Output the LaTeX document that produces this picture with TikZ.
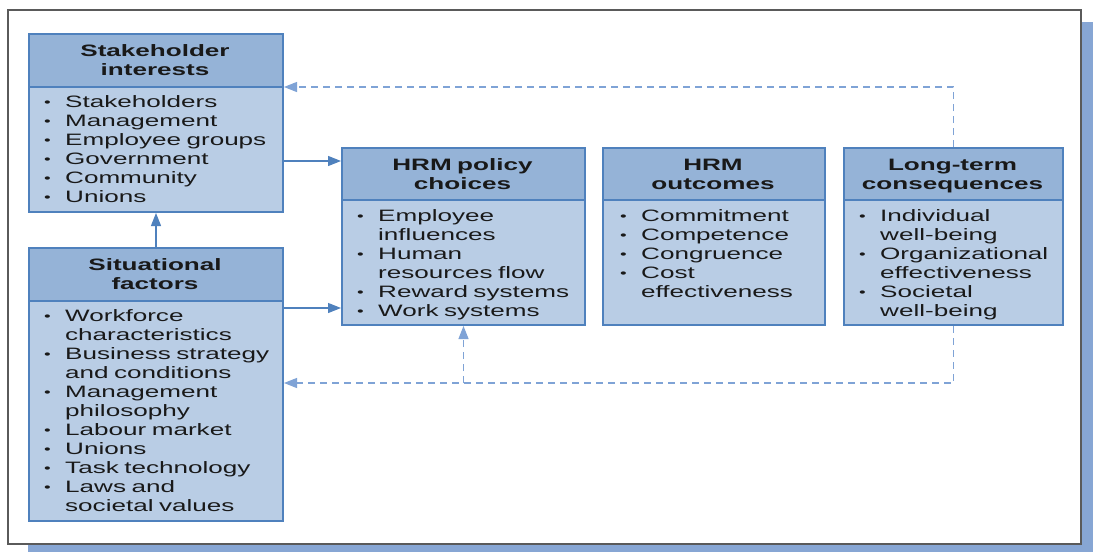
\documentclass[tikz,border=0pt]{standalone}
\usepackage{fontspec}
\setmainfont{Liberation Sans}[FakeStretch=1.58]
\usetikzlibrary{arrows.meta}
\definecolor{hdr}{HTML}{95B3D7}
\definecolor{bdy}{HTML}{B9CDE5}
\definecolor{brd}{HTML}{4F81BD}
\definecolor{shd}{HTML}{87A6D4}
\definecolor{dsh}{HTML}{7FA3D6}
\definecolor{frm}{HTML}{5A5A5A}
\newcommand{\bl}[1]{\makebox[21pt][l]{\raisebox{1pt}{\fontsize{12}{12}\selectfont\textbullet}}#1}
\newcommand{\cl}[1]{\hspace*{21pt}#1}
\tikzset{
  boxbody/.style={draw=brd, line width=2pt, fill=bdy, inner sep=0pt, anchor=north west},
  boxhead/.style={draw=brd, line width=2pt, fill=hdr, inner sep=0pt, anchor=north west},
  htext/.style={font=\fontsize{16.5}{19}\selectfont\bfseries, align=center, anchor=base, inner sep=0pt, text=black!90},
  btext/.style={font=\fontsize{16.5}{19}\selectfont, align=left, anchor=base west, inner sep=0pt, text width=240pt, text=black!90},
  solidarrow/.style={draw=brd, line width=1.1pt, -{Triangle[length=13pt,width=10pt]}},
  dasharrow/.style={draw=dsh, line width=1.1pt, dash pattern=on 7pt off 5pt, -{Triangle[length=13pt,width=10pt]}},
}
\begin{document}
\begin{tikzpicture}[x=1pt,y=-1pt]
\useasboundingbox (0,0) rectangle (1093,552);
% frame with shadow
\fill[shd] (28,22) rectangle (1093,552);
\draw[frm, fill=white, line width=1.5pt] (8,10) rectangle (1081,544);

% Stakeholder interests
\node[boxbody, minimum width=254pt, minimum height=178pt] (sh) at (28,33) {};
\node[boxhead, minimum width=254pt, minimum height=53pt] (shh) at (28,33) {};
\node[htext, text width=254pt] (shht) at (155,56) {Stakeholder\\interests};
\node[btext] (shb) at (44,107) {\bl{Stakeholders}\\\bl{Management}\\\bl{Employee groups}\\\bl{Government}\\\bl{Community}\\\bl{Unions}};

% Situational factors
\node[boxbody, minimum width=254pt, minimum height=273pt] (sf) at (28,247) {};
\node[boxhead, minimum width=254pt, minimum height=53pt] (sfh) at (28,247) {};
\node[htext, text width=254pt] (sfht) at (155,270) {Situational\\factors};
\node[btext] (sfb) at (44,321) {\bl{Workforce}\\\cl{characteristics}\\\bl{Business strategy}\\\cl{and conditions}\\\bl{Management}\\\cl{philosophy}\\\bl{Labour market}\\\bl{Unions}\\\bl{Task technology}\\\bl{Laws and}\\\cl{societal values}};

% HRM policy choices
\node[boxbody, minimum width=243pt, minimum height=177pt] (pol) at (341,147) {};
\node[boxhead, minimum width=243pt, minimum height=52pt] (polh) at (341,147) {};
\node[htext, text width=243pt] (polht) at (462.5,170) {HRM policy\\choices};
\node[btext] (polb) at (357,221) {\bl{Employee}\\\cl{influences}\\\bl{Human}\\\cl{resources flow}\\\bl{Reward systems}\\\bl{Work systems}};

% HRM outcomes
\node[boxbody, minimum width=222pt, minimum height=177pt] (out) at (602,147) {};
\node[boxhead, minimum width=222pt, minimum height=52pt] (outh) at (602,147) {};
\node[htext, text width=222pt] (outht) at (713,170) {HRM\\outcomes};
\node[btext] (outb) at (620,221) {\bl{Commitment}\\\bl{Competence}\\\bl{Congruence}\\\bl{Cost}\\\cl{effectiveness}};

% Long-term consequences
\node[boxbody, minimum width=219pt, minimum height=177pt] (lt) at (843,147) {};
\node[boxhead, minimum width=219pt, minimum height=52pt] (lth) at (843,147) {};
\node[htext, text width=219pt] (ltht) at (952.5,170) {Long-term\\consequences};
\node[btext] (ltb) at (859,221) {\bl{Individual}\\\cl{well-being}\\\bl{Organizational}\\\cl{effectiveness}\\\bl{Societal}\\\cl{well-being}};

% connectors
\draw[solidarrow] (sh.east |- 0,161) -- (pol.west |- 0,161);
\draw[solidarrow] (sf.east |- 0,308) -- (pol.west |- 0,308);
\draw[solidarrow] (sf.north) -- (sh.south);
\draw[dasharrow] (lt.north) -- (lt.north |- 0,87) -- (sh.east |- 0,87);
\draw[dasharrow] (lt.south) -- (lt.south |- 0,383) -- (sf.east |- 0,383);
\draw[dasharrow] (pol.south |- 0,383) -- (pol.south);
\end{tikzpicture}
\end{document}
